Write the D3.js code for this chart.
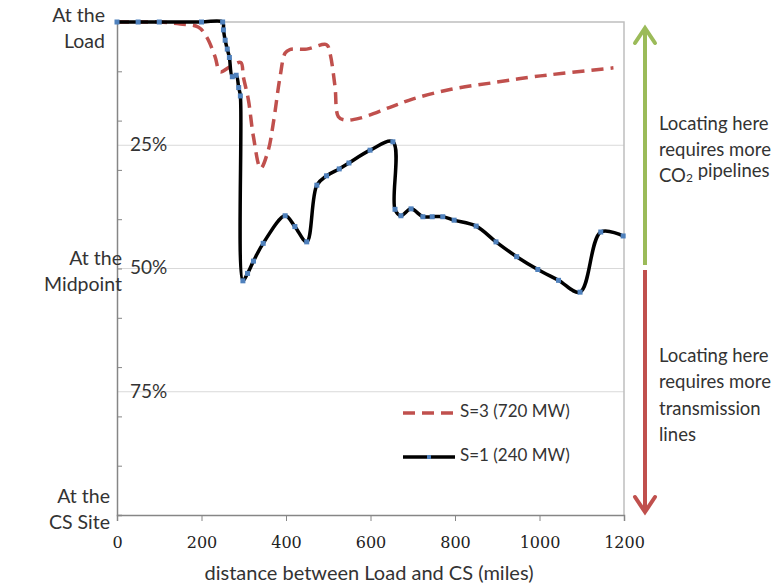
<!DOCTYPE html>
<meta charset="utf-8">
<style>
body { margin: 0; background: #fff; }
text { font-family: Lato, "Open Sans", sans-serif; fill: #333; }
</style>
<svg width="782" height="587"></svg>
<script src="https://cdnjs.cloudflare.com/ajax/libs/d3/7.8.5/d3.min.js"></script>
<script>
// S=1 (240 MW): distance (miles) and position between load (0) and CS site (1)
var s1Miles = [0, 50, 100, 200, 250, 252, 256, 261, 266, 273, 282, 288, 292, 298, 309, 323, 346, 398, 421, 449,
  473, 496, 526, 549, 599, 653, 658, 672, 696, 724, 746, 771, 798, 850, 897, 946, 996, 1045, 1096, 1145, 1198];
var s1Share = [0, 0, 0, 0, 0, 0.016, 0.037, 0.055, 0.072, 0.111, 0.108, 0.133, 0.150, 0.525, 0.510, 0.485, 0.449, 0.393, 0.415, 0.446,
  0.331, 0.312, 0.298, 0.286, 0.260, 0.243, 0.380, 0.393, 0.379, 0.395, 0.395, 0.395, 0.402, 0.414, 0.446, 0.476, 0.502, 0.524, 0.548, 0.426, 0.434];
// S=3 (720 MW)
var s3Miles = [0, 50, 100, 150, 192, 212, 232, 244, 267, 293, 299, 311, 323, 340, 358, 370, 386, 398, 409, 449,
  496, 504, 516, 524, 540, 575, 646, 701, 788, 899, 977, 1056, 1175];
var s3Share = [0, 0, 0, 0.004, 0.010, 0.030, 0.070, 0.101, 0.091, 0.082, 0.111, 0.158, 0.233, 0.297, 0.260, 0.205, 0.111, 0.063, 0.056, 0.055,
  0.046, 0.063, 0.131, 0.192, 0.199, 0.195, 0.173, 0.156, 0.137, 0.122, 0.112, 0.104, 0.093];
var xTicks = [0, 200, 400, 600, 800, 1000, 1200];
var pctLabels = [[0.25, "25%"], [0.5, "50%"], [0.75, "75%"]];
var sideLabels = [["At the", "Load"], ["At the", "Midpoint"], ["At the", "CS Site"]];
var seriesNames = ["S=3 (720 MW)", "S=1 (240 MW)"];

var svg = d3.select("svg");
var x = d3.scaleLinear().domain([0, 1200]).range([117, 624]);
var y = d3.scaleLinear().domain([0, 1]).range([22, 515]);

// gridlines
svg.append("g").selectAll("line").data(pctLabels).enter().append("line")
    .attr("x1", x(0)).attr("x2", x(1200))
    .attr("y1", d => y(d[0])).attr("y2", d => y(d[0]))
    .attr("stroke", "#d9d9d9").attr("stroke-width", 1);

// plot border (top / right)
svg.append("path")
    .attr("d", "M" + x(0) + "," + y(0) + "H" + x(1200) + "V" + y(1))
    .attr("fill", "none").attr("stroke", "#bfbfbf").attr("stroke-width", 1.5);

// x axis
var xAxis = svg.append("g").attr("transform", "translate(0," + y(1) + ")")
    .call(d3.axisBottom(x).tickValues(xTicks).tickSize(6).tickPadding(16).tickFormat(d3.format("d")));
xAxis.select(".domain").attr("stroke", "#868686").attr("stroke-width", 1.5);
xAxis.selectAll(".tick line").attr("stroke", "#868686");
xAxis.selectAll(".tick text").style("font-size", "16px")
    .style("font-family", "'DejaVu Serif', serif").style("fill", "#222");

// y axis with inward ticks every 10%
var yAxis = svg.append("g").attr("transform", "translate(" + x(0) + ",0)")
    .call(d3.axisRight(y).tickValues(d3.range(0, 1.01, 0.1)).tickSize(5).tickFormat(""));
yAxis.select(".domain").attr("stroke", "#868686").attr("stroke-width", 1.5);
yAxis.selectAll(".tick line").attr("stroke", "#868686");

// percent labels inside plot
svg.append("g").selectAll("text").data(pctLabels).enter().append("text")
    .attr("x", 130).attr("y", d => y(d[0]) + 1)
    .attr("dominant-baseline", "middle").style("font-size", "19px")
    .text(d => d[1]);

// side labels
var sidePos = [[105, 17], [122, 260], [110, 498]];
sideLabels.forEach(function(l, i) {
  var t = svg.append("text").attr("text-anchor", "end").style("font-size", "19.5px");
  t.append("tspan").attr("x", sidePos[i][0]).attr("y", sidePos[i][1]).attr("dominant-baseline", "middle").text(l[0]);
  t.append("tspan").attr("x", sidePos[i][0]).attr("y", sidePos[i][1] + 26).attr("dominant-baseline", "middle").text(l[1]);
});

// x axis title
svg.append("text").attr("x", 369).attr("y", 575).attr("text-anchor", "middle")
    .attr("dominant-baseline", "middle").style("font-size", "20px")
    .text("distance between Load and CS (miles)");

var line = d3.line().x(d => x(d[0])).y(d => y(d[1])).curve(d3.curveCatmullRom.alpha(0.5));
var s3 = s3Miles.map((m, i) => [m, s3Share[i]]);
var s1 = s1Miles.map((m, i) => [m, s1Share[i]]);

svg.append("path").attr("d", line(s3)).attr("fill", "none")
    .attr("stroke", "#c0504d").attr("stroke-width", 3.5).attr("stroke-dasharray", "12,7");
svg.append("path").attr("d", line(s1)).attr("fill", "none")
    .attr("stroke", "#000").attr("stroke-width", 3.5).attr("stroke-linejoin", "round");
svg.append("g").selectAll("rect").data(s1).enter().append("rect")
    .attr("x", d => x(d[0]) - 2.5).attr("y", d => y(d[1]) - 2.5)
    .attr("width", 5).attr("height", 5).attr("fill", "#4f81bd");

// legend
var lg = svg.append("g");
lg.append("line").attr("x1", 403).attr("x2", 455).attr("y1", 413).attr("y2", 413)
    .attr("stroke", "#c0504d").attr("stroke-width", 3.5).attr("stroke-dasharray", "12,7");
lg.append("line").attr("x1", 403).attr("x2", 455).attr("y1", 457).attr("y2", 457)
    .attr("stroke", "#000").attr("stroke-width", 3.5);
lg.append("rect").attr("x", 427).attr("y", 455).attr("width", 4).attr("height", 4).attr("fill", "#4f81bd");
lg.selectAll("text").data(seriesNames).enter().append("text")
    .attr("x", 460).attr("y", (d, i) => 413 + i * 44).attr("dominant-baseline", "middle")
    .style("font-size", "17px").text(d => d);

// side arrows
var ax = 645;
svg.append("line").attr("x1", ax).attr("x2", ax).attr("y1", 28).attr("y2", 265)
    .attr("stroke", "#9bbb59").attr("stroke-width", 4);
svg.append("path").attr("d", "M" + (ax - 10) + ",43L" + ax + ",28L" + (ax + 10) + ",43")
    .attr("fill", "none").attr("stroke", "#9bbb59").attr("stroke-width", 4).attr("stroke-linecap", "round");
svg.append("line").attr("x1", ax).attr("x2", ax).attr("y1", 270).attr("y2", 512)
    .attr("stroke", "#c0504d").attr("stroke-width", 4);
svg.append("path").attr("d", "M" + (ax - 10) + ",497L" + ax + ",512L" + (ax + 10) + ",497")
    .attr("fill", "none").attr("stroke", "#c0504d").attr("stroke-width", 4).attr("stroke-linecap", "round");

var noteUp = svg.append("text").style("font-size", "18.5px");
noteUp.append("tspan").attr("x", 659).attr("y", 125).attr("dominant-baseline", "middle").text("Locating here");
noteUp.append("tspan").attr("x", 659).attr("y", 151).attr("dominant-baseline", "middle").text("requires more");
noteUp.append("tspan").attr("x", 659).attr("y", 177).attr("dominant-baseline", "middle").text("CO");
noteUp.append("tspan").attr("dy", 5).style("font-size", "12px").text("2");
noteUp.append("tspan").attr("dy", -5).text(" pipelines");

var noteDown = svg.append("text").style("font-size", "18.5px");
["Locating here", "requires more", "transmission", "lines"].forEach(function(s, i) {
  noteDown.append("tspan").attr("x", 659).attr("y", 357 + i * 26.5).attr("dominant-baseline", "middle").text(s);
});
</script>
